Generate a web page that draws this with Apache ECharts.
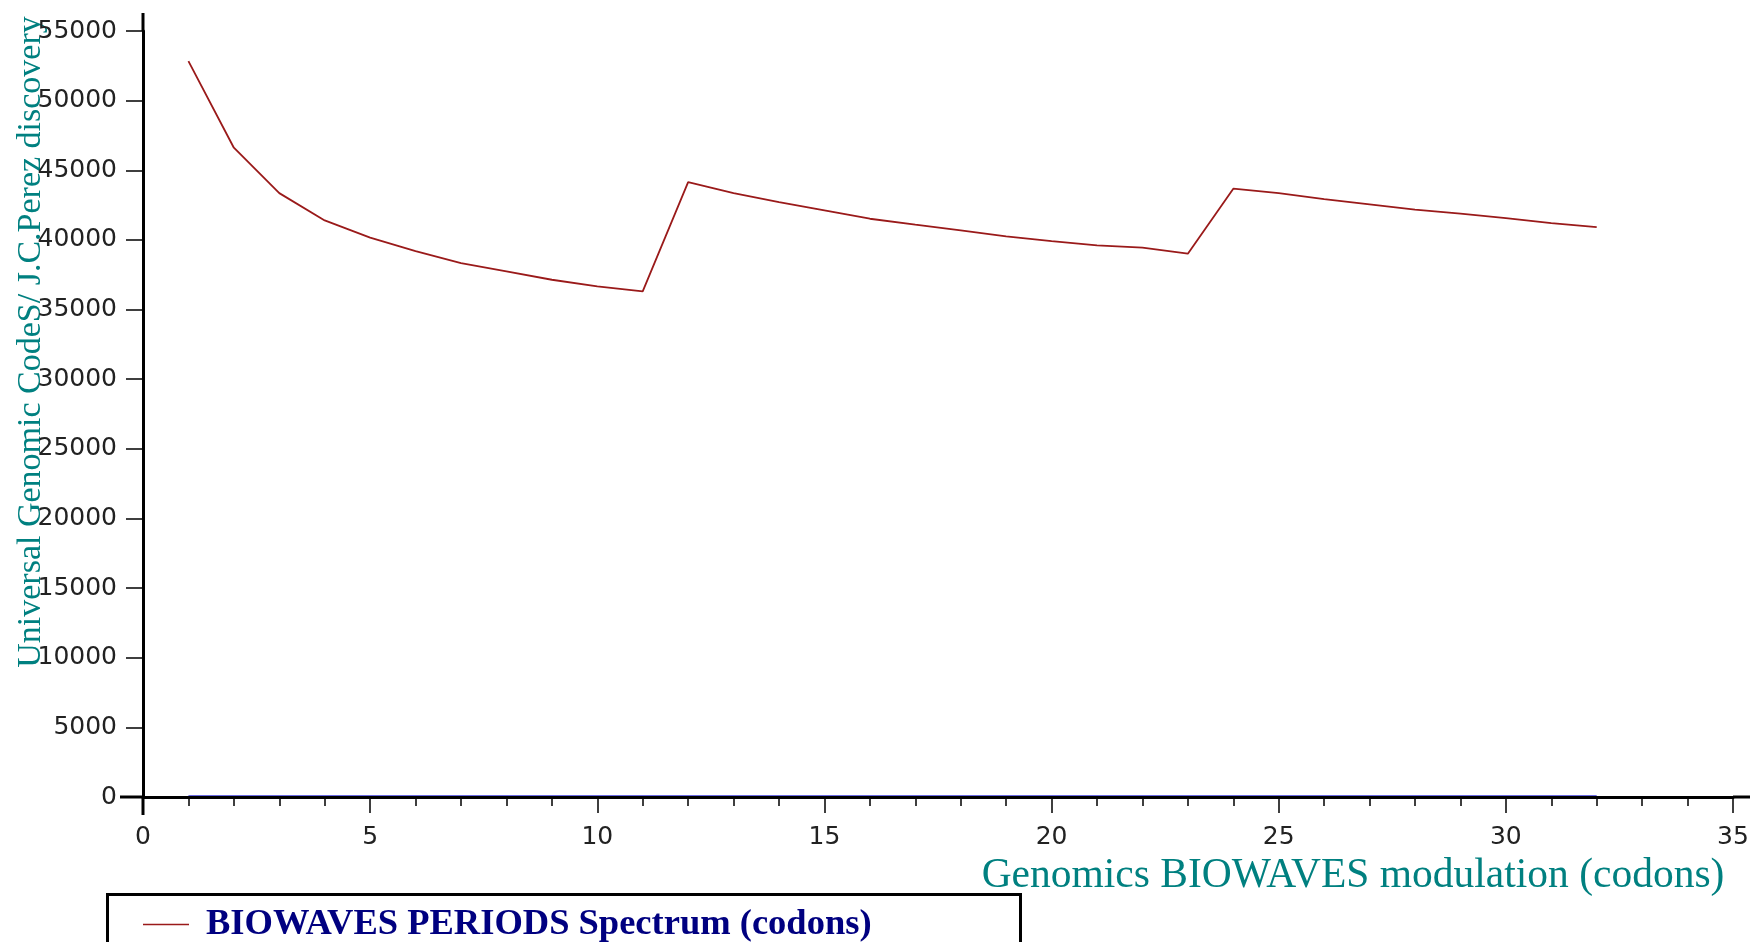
<!DOCTYPE html>
<html>
<head>
<meta charset="utf-8">
<script src="https://cdn.jsdelivr.net/npm/echarts@6/dist/echarts.min.js"></script>
<style>
html,body{margin:0;padding:0;background:#fff;}
#chart{width:1750px;height:942px;}
</style>
</head>
<body>
<div id="chart"></div>
<script>
// ---- data ----
const periods = [1,2,3,4,5,6,7,8,9,10,11,12,13,14,15,16,17,18,19,20,21,22,23,24,25,26,27,28,29,30,31,32];
const spectrum = [52840,46620,43360,41400,40160,39200,38340,37740,37140,36660,36300,
                  44150,43360,42720,42120,41520,41090,40680,40250,39920,39610,39440,39010,
                  43680,43360,42930,42550,42170,41880,41570,41210,40920];
const baseline = [0,0,0,0,0,0,0,0,0,0,0,0,0,0,0,0,0,0,0,0,0,0,0,0,0,0,0,0,0,0,0,0];
const seriesName = 'BIOWAVES PERIODS Spectrum (codons)';
const xTitle = 'Genomics BIOWAVES modulation (codons)';
const yTitle = 'Universal Genomic CodeS/ J.C.Perez discovery';

const chart = echarts.init(document.getElementById('chart'));
const labelFont = {fontFamily:'DejaVu Sans', fontSize:25, color:'#222'};
chart.setOption({
  animation:false,
  backgroundColor:'#fff',
  grid:{left:143, right:17, top:31, bottom:145, containLabel:false, outerBoundsMode:'none'},
  xAxis:{
    type:'value', min:0, max:35, interval:5,
    axisLine:{onZero:false, lineStyle:{color:'#000', width:3}},
    axisTick:{show:true, length:16, lineStyle:{color:'#000', width:1.5}},
    minorTick:{show:true, splitNumber:5, length:9, lineStyle:{color:'#000', width:1.5}},
    splitLine:{show:false},
    axisLabel:Object.assign({margin:28, formatter:v=>String(v)}, labelFont),
    name:xTitle, nameLocation:'middle', nameGap:58, nameMoveOverlap:false,
    nameTextStyle:{fontFamily:'Liberation Serif', fontSize:41.5, color:'#008080', padding:[0,0,0,830]},
    z:5
  },
  yAxis:{
    type:'value', min:0, max:55000, interval:5000,
    axisLine:{onZero:false, lineStyle:{color:'#000', width:3}},
    axisTick:{show:true, length:17, lineStyle:{color:'#000', width:1.5}},
    splitLine:{show:false},
    axisLabel:Object.assign({margin:26, formatter:v=>String(v)}, labelFont),
    name:yTitle, nameLocation:'middle', nameGap:95, nameRotate:90, nameMoveOverlap:false,
    nameTextStyle:{fontFamily:'Liberation Serif', fontSize:34, color:'#008080', padding:[0,0,0,144]},
    z:5
  },
  legend:{
    data:[seriesName], left:138, top:901, itemWidth:46, itemHeight:14, itemGap:10,
    icon:'path://M0,0 L46,0 L46,1.4 L0,1.4 Z',
    textStyle:{fontFamily:'Liberation Serif', fontWeight:'bold', fontSize:36.5, color:'#000080', padding:[0,0,0,12]}
  },
  graphic:[
    {type:'rect', left:105, top:892, shape:{width:913, height:80}, style:{fill:null, stroke:'#000', lineWidth:3}, silent:true},
    {type:'line', shape:{x1:143, y1:13, x2:143, y2:31}, style:{stroke:'#000', lineWidth:3}, silent:true},
    {type:'line', shape:{x1:143, y1:797, x2:143, y2:815}, style:{stroke:'#000', lineWidth:3}, silent:true},
    {type:'line', shape:{x1:120, y1:797, x2:143, y2:797}, style:{stroke:'#000', lineWidth:3}, silent:true},
    {type:'line', shape:{x1:1733, y1:797, x2:1750, y2:797}, style:{stroke:'#000', lineWidth:3}, silent:true}
  ],
  series:[
    {name:seriesName, type:'line', data:periods.map((p,i)=>[p,spectrum[i]]), symbol:'none',
     lineStyle:{color:'#9a1a1a', width:1.8}, itemStyle:{color:'#9a1a1a'}, z:3},
    {name:'baseline', type:'line', data:periods.map((p,i)=>[p,baseline[i]]), symbol:'none',
     lineStyle:{color:'#3a3ad8', width:3.6}, itemStyle:{color:'#3a3ad8'}, z:1}
  ]
});
</script>
</body>
</html>
